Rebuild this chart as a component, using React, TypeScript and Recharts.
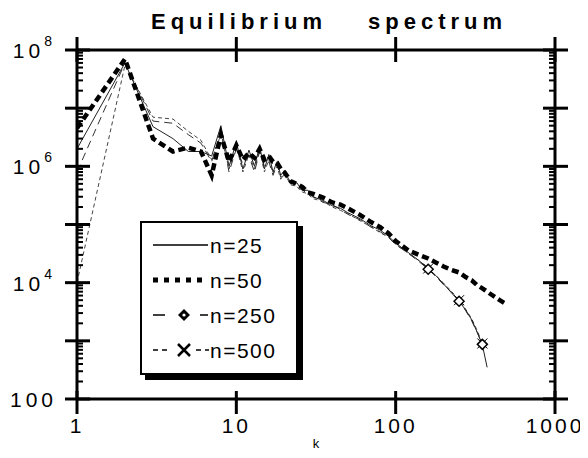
import React from 'react'
import { LineChart, Line, XAxis, YAxis, Legend, Label } from 'recharts'

// wave numbers k, shared by every run
const K = [
  1, 2, 3, 4, 5, 6, 7, 8, 9, 10, 11, 12, 13, 14, 15, 16, 17, 18, 19, 20,
  22, 24, 26, 28, 30, 35, 40, 45, 50, 60, 70, 80, 90, 100,
  120, 140, 160, 180, 200, 225, 250, 275, 300, 325, 350, 375, 400, 450, 500,
]

const N25 = [
  2e6, 6e7, 4.8e6, 3e6, 1.8e6, 1.8e6, 1.5e6, 5e6,
  1e6, 2.6e6, 9e5, 1.9e6, 1e6, 2.2e6, 9e5, 1.6e6, 8e5, 1.2e6, 7e5, 8.5e5,
  5e5, 5.2e5, 3.8e5, 3.9e5, 3e5,
  2.6e5, 2.1e5, 1.9e5, 1.6e5,
  1.25e5, 9.5e4, 8e4, 6.3e4, 4.8e4,
  3.3e4, 2.4e4, 1.75e4, 1.3e4, 9.5e3,
  6.6e3, 4.8e3, 3.4e3, 2.3e3, 1.4e3, 8.5e2, 3.5e2,
  null, null, null,
]

const N50 = [
  4.5e6, 7e7, 3e6, 1.8e6, 2.1e6, 1.8e6, 7e5, 3.5e6,
  1.2e6, 2.3e6, 1.3e6, 1.7e6, 1.4e6, 2e6, 1.3e6, 1.5e6, 1.2e6, 1.15e6, 9e5, 8e5,
  5.5e5, 5e5, 4.4e5, 3.6e5, 3.4e5,
  2.9e5, 2.4e5, 2.2e5, 1.9e5,
  1.45e5, 1.1e5, 9e4, 7.1e4, 5.2e4,
  3.6e4, 3e4, 2.6e4, 2.2e4, 1.9e4,
  1.65e4, 1.5e4, 1.25e4, 1.1e4, 9e3, 8e3, 7e3,
  6.2e3, 5e3, 4.2e3,
]

const N250 = [
  8e5, 6e7, 6e6, 5.5e6, 3.5e6, 2.5e6, 1.2e6, 4e6,
  8e5, 2e6, 1.1e6, 1.5e6, 8e5, 1.8e6, 1e6, 1.2e6, 7e5, 1.1e6, 6.5e5, 7e5,
  5.5e5, 4.2e5, 4e5, 3.3e5, 3.1e5,
  2.4e5, 2.2e5, 1.8e5, 1.5e5,
  1.2e5, 9e4, 7.5e4, 6e4, 4.5e4,
  3.2e4, 2.3e4, 1.7e4, 1.25e4, 9.2e3,
  6.8e3, 4.8e3, 3.3e3, 2.2e3, 1.4e3, 8.7e2, null,
  null, null, null,
]

const N500 = [
  1e4, 5.5e7, 7e6, 6.5e6, 4e6, 2.8e6, 1.3e6, 3.5e6,
  9e5, 2.2e6, 8e5, 1.6e6, 9e5, 1.9e6, 8e5, 1.3e6, 7.5e5, 1e6, 6e5, 7.5e5,
  4.8e5, 4.5e5, 3.6e5, 3.4e5, 2.8e5,
  2.5e5, 2e5, 1.75e5, 1.55e5,
  1.15e5, 9.2e4, 7.2e4, 6.1e4, 4.6e4,
  3.2e4, 2.4e4, 1.75e4, 1.3e4, 9.8e3,
  7e3, 5e3, 3.5e3, 2.4e3, 1.5e3, 9e2, null,
  null, null, null,
]

const MARK_K = [160, 250, 350]

const X_TICKS = [1, 10, 100, 1000]
const Y_MAJOR = [1e2, 1e3, 1e4, 1e5, 1e6, 1e7, 1e8]
const Y_LABELED = [1e2, 1e4, 1e6, 1e8]
const Y_TICKS = Y_MAJOR.flatMap((d, i) =>
  i === Y_MAJOR.length - 1 ? [d] : [d, ...[2, 3, 4, 5, 6, 7, 8, 9].map((m) => m * d)]
)

const data = K.map((k, i) => ({ k, n25: N25[i], n50: N50[i], n250: N250[i], n500: N500[i] }))

const FONT = '"Liberation Sans", Arial, Helvetica, sans-serif'
const AXIS_LINE = { stroke: '#000', strokeWidth: 3 }

function yText(v: number, x: number, y: number) {
  const e = Math.round(Math.log10(v))
  if (e === 2)
    return (
      <text x={x - 20} y={y + 8} textAnchor="end" fontSize={21} letterSpacing={4} fontFamily={FONT} fill="#000">
        100
      </text>
    )
  return (
    <text x={x - 25} y={y + 8} textAnchor="end" fontSize={21} letterSpacing={4} fontFamily={FONT} fill="#000">
      10
      <tspan fontSize={14} dy={-12} letterSpacing={0}>
        {String(e)}
      </tspan>
    </text>
  )
}

const LeftTick = (p: any) => {
  const { x, y, payload } = p
  const v = payload.value
  const major = Y_MAJOR.includes(v)
  return (
    <g>
      {major ? (
        <line x1={x - 12} x2={x + 13} y1={y} y2={y} stroke="#000" strokeWidth={3} />
      ) : (
        <line x1={x} x2={x + 6} y1={y} y2={y} stroke="#000" strokeWidth={2} />
      )}
      {Y_LABELED.includes(v) && yText(v, x, y)}
    </g>
  )
}

const RightTick = (p: any) => {
  const { x, y, payload } = p
  const major = Y_MAJOR.includes(payload.value)
  return major ? (
    <line x1={x - 12} x2={x + 13} y1={y} y2={y} stroke="#000" strokeWidth={3} />
  ) : (
    <line x1={x - 6} x2={x} y1={y} y2={y} stroke="#000" strokeWidth={2} />
  )
}

const BottomTick = (p: any) => {
  const { x, y, payload } = p
  return (
    <g>
      <line x1={x} x2={x} y1={y - 8} y2={y + 15} stroke="#000" strokeWidth={3} />
      <text x={x} y={y + 34} textAnchor="middle" fontSize={21} letterSpacing={3} fontFamily={FONT} fill="#000">
        {String(payload.value)}
      </text>
    </g>
  )
}

const TopTick = (p: any) => {
  const { x, y } = p
  return <line x1={x} x2={x} y1={y - 13} y2={y + 12} stroke="#000" strokeWidth={3} />
}

const diamondDot = (p: any) => {
  const { cx, cy, payload, index } = p
  if (!MARK_K.includes(payload.k) || cy == null) return <g key={`dd${index}`} />
  const s = 5
  return (
    <path
      key={`dd${index}`}
      d={`M${cx},${cy - s} L${cx + s},${cy} L${cx},${cy + s} L${cx - s},${cy} Z`}
      fill="#fff"
      stroke="#000"
      strokeWidth={1.5}
    />
  )
}

const crossDot = (p: any) => {
  const { cx, cy, payload, index } = p
  if (!MARK_K.includes(payload.k) || cy == null) return <g key={`xd${index}`} />
  const s = 5
  return (
    <path
      key={`xd${index}`}
      d={`M${cx - s},${cy - s} L${cx + s},${cy + s} M${cx + s},${cy - s} L${cx - s},${cy + s}`}
      stroke="#000"
      strokeWidth={1}
      fill="none"
    />
  )
}

const LEGEND_ROWS = ['n=25', 'n=50', 'n=250', 'n=500']

function LegendBox() {
  const rowY = [22, 57, 92, 127]
  return (
    <div
      style={{
        width: 158,
        height: 154,
        boxSizing: 'border-box',
        border: '2px solid #000',
        boxShadow: '5px 5px 0 #000',
        background: '#fff',
      }}
    >
      <svg width={154} height={150} style={{ display: 'block' }}>
        <line x1={11} x2={66} y1={rowY[0]} y2={rowY[0]} stroke="#000" strokeWidth={1.5} />
        <line x1={11} x2={66} y1={rowY[1]} y2={rowY[1]} stroke="#000" strokeWidth={5} strokeDasharray="5 6" />
        <line x1={11} x2={23} y1={rowY[2]} y2={rowY[2]} stroke="#000" strokeWidth={1.5} />
        <path d={`M42,${rowY[2] - 6} L48,${rowY[2]} L42,${rowY[2] + 6} L36,${rowY[2]} Z`} fill="#000" />
        <circle cx={42} cy={rowY[2]} r={1.6} fill="#fff" />
        <line x1={58} x2={66} y1={rowY[2]} y2={rowY[2]} stroke="#000" strokeWidth={1.5} />
        <line x1={11} x2={25} y1={rowY[3]} y2={rowY[3]} stroke="#000" strokeWidth={1.5} strokeDasharray="5 4" />
        <path
          d={`M36,${rowY[3] - 6} L48,${rowY[3] + 6} M48,${rowY[3] - 6} L36,${rowY[3] + 6}`}
          stroke="#000"
          strokeWidth={2.5}
        />
        <line x1={54} x2={67} y1={rowY[3]} y2={rowY[3]} stroke="#000" strokeWidth={1.5} strokeDasharray="5 4" />
        {LEGEND_ROWS.map((t, i) => (
          <text key={t} x={68} y={rowY[i] + 8} fontSize={21} letterSpacing={1.5} fontFamily={FONT} fill="#000">
            {t}
          </text>
        ))}
      </svg>
    </div>
  )
}

export default function App() {
  return (
    <div style={{ position: 'relative', width: 580, height: 442, background: '#fff' }}>
      <div
        style={{
          position: 'absolute',
          top: 3,
          left: 0,
          width: 580,
          height: 24,
          fontFamily: FONT,
          fontWeight: 'bold',
          fontSize: 22,
          lineHeight: '22px',
          letterSpacing: 5,
          whiteSpace: 'pre',
        }}
      >
        <span style={{ position: 'absolute', left: 143 }}>Equilibrium</span>
        <span style={{ position: 'absolute', left: 360 }}>spectrum</span>
      </div>
      <LineChart
        width={580}
        height={442}
        data={data}
        margin={{ top: 0, right: 0, bottom: 0, left: 0 }}
        style={{ overflow: 'visible' }}
      >
        <XAxis
          xAxisId="b"
          dataKey="k"
          type="number"
          scale="log"
          domain={[1, 1000]}
          allowDataOverflow
          ticks={X_TICKS}
          interval={0}
          tickSize={0}
          tickMargin={0}
          tickLine={false}
          tick={BottomTick}
          axisLine={AXIS_LINE}
          height={51}
        >
          <Label value="k" position="insideBottom" offset={2} fontSize={13} fill="#000" fontFamily={FONT} />
        </XAxis>
        <XAxis
          xAxisId="t"
          orientation="top"
          dataKey="k"
          type="number"
          scale="log"
          domain={[1, 1000]}
          allowDataOverflow
          ticks={X_TICKS}
          interval={0}
          tickSize={0}
          tickMargin={0}
          tickLine={false}
          tick={TopTick}
          axisLine={AXIS_LINE}
          height={42}
        />
        <YAxis
          yAxisId="l"
          type="number"
          scale="log"
          domain={[100, 1e8]}
          allowDataOverflow
          ticks={Y_TICKS}
          interval={0}
          tickSize={0}
          tickMargin={0}
          tickLine={false}
          tick={LeftTick}
          axisLine={AXIS_LINE}
          width={69}
        />
        <YAxis
          yAxisId="r"
          orientation="right"
          type="number"
          scale="log"
          domain={[100, 1e8]}
          allowDataOverflow
          ticks={Y_TICKS}
          interval={0}
          tickSize={0}
          tickMargin={0}
          tickLine={false}
          tick={RightTick}
          axisLine={AXIS_LINE}
          width={33}
        />
        <Legend
          layout="vertical"
          align="center"
          verticalAlign="middle"
          wrapperStyle={{ left: 132, top: 213, width: 158, height: 154 }}
          content={() => <LegendBox />}
        />
        <Line
          xAxisId="b"
          yAxisId="l"
          dataKey="n500"
          name="n=500"
          stroke="#444"
          strokeWidth={1}
          strokeDasharray="4 3"
          dot={crossDot}
          activeDot={false}
          isAnimationActive={false}
        />
        <Line
          xAxisId="b"
          yAxisId="l"
          dataKey="n250"
          name="n=250"
          stroke="#333"
          strokeWidth={1}
          strokeDasharray="8 5"
          dot={diamondDot}
          activeDot={false}
          isAnimationActive={false}
        />
        <Line
          xAxisId="b"
          yAxisId="l"
          dataKey="n25"
          name="n=25"
          stroke="#222"
          strokeWidth={1}
          dot={false}
          activeDot={false}
          isAnimationActive={false}
        />
        <Line
          xAxisId="b"
          yAxisId="l"
          dataKey="n50"
          name="n=50"
          stroke="#000"
          strokeWidth={4.5}
          strokeDasharray="7 4"
          dot={false}
          activeDot={false}
          isAnimationActive={false}
        />
      </LineChart>
    </div>
  )
}
